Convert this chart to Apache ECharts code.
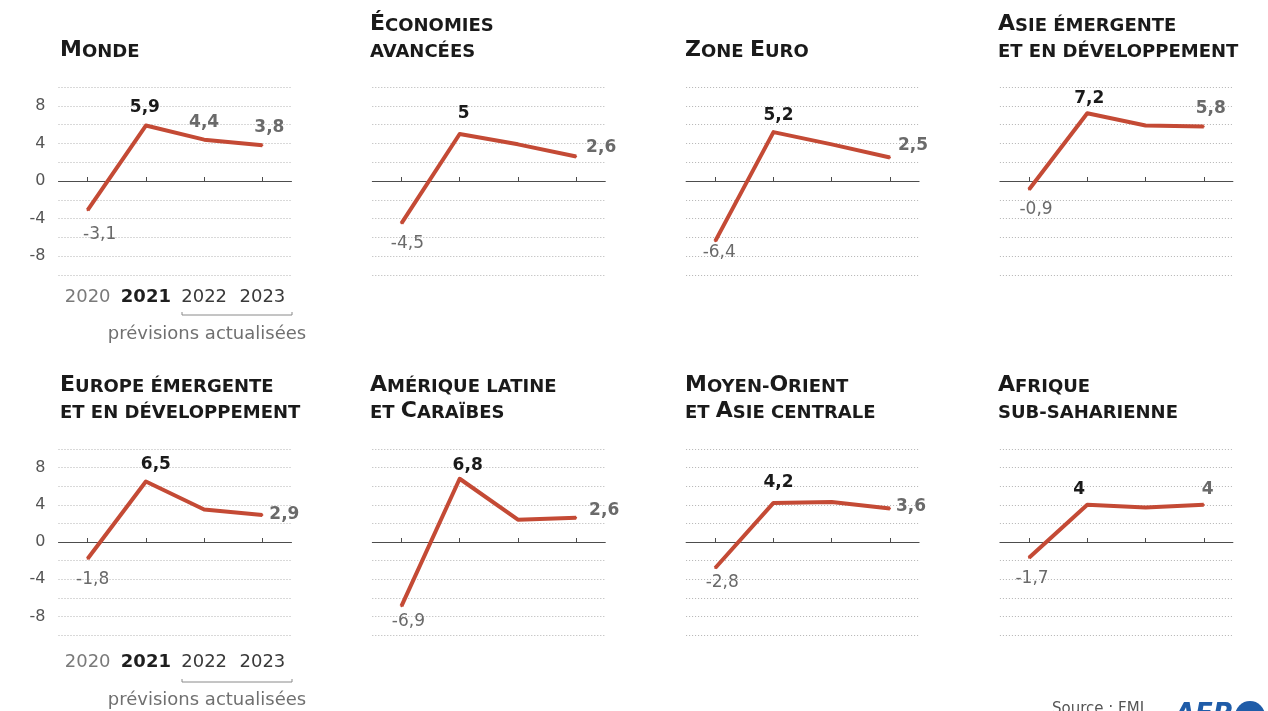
<!DOCTYPE html>
<html><head><meta charset="utf-8">
<script src="https://cdn.jsdelivr.net/npm/echarts@6/dist/echarts.min.js"></script>
<style>html,body{margin:0;padding:0;background:#fff}#c{width:1268px;height:711px}</style>
</head><body><div id="c"></div>
<script>
// ---- data ----
const years = ['2020', '2021', '2022', '2023'];
const yTickLabels = [-8, -4, 0, 4, 8];
const monde = [-3.1, 5.9, 4.4, 3.8];
const economiesAvancees = [-4.5, 5.0, 3.9, 2.6];
const zoneEuro = [-6.4, 5.2, 3.9, 2.5];
const asieEmergente = [-0.9, 7.2, 5.9, 5.8];
const europeEmergente = [-1.8, 6.5, 3.5, 2.9];
const ameriqueLatine = [-6.9, 6.8, 2.4, 2.6];
const moyenOrient = [-2.8, 4.2, 4.3, 3.6];
const afriqueSubsaharienne = [-1.7, 4.0, 3.7, 4.0];
const titles = [
  ['Monde'],
  ['Économies', 'avancées'],
  ['Zone Euro'],
  ['Asie émergente', 'et en développement'],
  ['Europe émergente', 'et en développement'],
  ['Amérique latine', 'et Caraïbes'],
  ['Moyen-Orient', 'et Asie centrale'],
  ['Afrique', 'sub-saharienne']
];
const forecastNote = 'prévisions actualisées';
const sourceText = 'Source : FMI';

// ---- style / layout ----
const FONT = 'DejaVu Sans';
const RED = '#c44a35';
const seriesValues = [monde, economiesAvancees, zoneEuro, asieEmergente,
  europeEmergente, ameriqueLatine, moyenOrient, afriqueSubsaharienne];
const labelShown = [[1,1,1,1],[1,1,0,1],[1,1,0,1],[1,1,0,1],[1,1,0,1],[1,1,0,1],[1,1,0,1],[1,1,0,1]];
const labelOffsets = [
  [[12,24],[-1,-18],[0,-17],[7,-18]],
  [[6,20],[4,-20],[0,0],[25,-9]],
  [[4,11],[5,-17],[0,0],[23,-12]],
  [[7,20],[2,-15],[0,0],[7,-18]],
  [[5,21],[10,-17],[0,0],[22,0]],
  [[7,15],[8,-13],[0,0],[28,-7]],
  [[7,15],[5,-20],[0,0],[21,-2]],
  [[3,21],[-8,-15],[0,0],[4,-15]]
];
const colLeft = [58.5, 372.3, 686.1, 999.9];
const titleLeft = [60, 370, 685, 998];
const rowTop = [87, 449];
const rowHeight = [188, 186];
const gridWidth = 233;
const titleBaseY = [[35, 61], [396, 422]];
const yearMargin = [12, 17];

function fmt(v) { return String(v).replace('.', ','); }

function smallCaps(str) {
  let out = '', cur = null, buf = '';
  for (const ch of str) {
    const st = (ch !== ch.toLowerCase()) ? 'b' : 's';
    if (st !== cur) { if (buf) out += '{' + cur + '|' + buf + '}'; cur = st; buf = ''; }
    buf += ch.toUpperCase();
  }
  if (buf) out += '{' + cur + '|' + buf + '}';
  return out;
}

const grids = [], xAxes = [], yAxes = [], series = [], graphics = [];
for (let i = 0; i < 8; i++) {
  const row = Math.floor(i / 4), col = i % 4;
  grids.push({ left: colLeft[col], top: rowTop[row], width: gridWidth, height: rowHeight[row], containLabel: false });
  xAxes.push({
    type: 'category', gridIndex: i, data: years, boundaryGap: true,
    axisLine: { show: true, onZero: true, lineStyle: { color: '#4d4d4d', width: 1 } },
    axisTick: { show: true, alignWithLabel: true, inside: true, length: 4, lineStyle: { color: '#4d4d4d' } },
    axisLabel: { show: false }, splitLine: { show: false }, z: 3
  });
  xAxes.push({
    type: 'category', gridIndex: i, data: years, boundaryGap: true, position: 'bottom',
    axisLine: { show: false, onZero: false }, axisTick: { show: false }, splitLine: { show: false },
    axisLabel: {
      show: col === 0, margin: yearMargin[row], interval: 0,
      formatter: (v, idx) => idx === 0 ? '{a|' + v + '}' : (idx === 1 ? '{b|' + v + '}' : '{c|' + v + '}'),
      rich: {
        a: { fontFamily: FONT, fontSize: 18, color: '#7a7a7a', lineHeight: 20 },
        b: { fontFamily: FONT, fontSize: 18, color: '#1e1e1e', fontWeight: 'bold', lineHeight: 20 },
        c: { fontFamily: FONT, fontSize: 18, color: '#3a3a3a', lineHeight: 20 }
      }
    }
  });
  yAxes.push({
    type: 'value', gridIndex: i, min: -10, max: 10, interval: 2,
    axisLine: { show: false }, axisTick: { show: false },
    splitLine: { show: true, lineStyle: { color: '#b3b3b3', type: [1, 2], width: 1 } },
    axisLabel: {
      show: col === 0, margin: 13, fontFamily: FONT, fontSize: 16, color: '#555',
      formatter: v => yTickLabels.indexOf(v) >= 0 ? String(v) : ''
    }
  });
  const vals = seriesValues[i];
  series.push({
    type: 'line', xAxisIndex: 2 * i, yAxisIndex: i, z: 5,
    symbol: 'circle', symbolSize: 2, showSymbol: true,
    itemStyle: { color: RED },
    lineStyle: { color: RED, width: 4, join: 'round' },
    emphasis: { disabled: true },
    data: vals.map((v, j) => ({
      value: v,
      label: {
        show: !!labelShown[i][j], position: 'inside', offset: labelOffsets[i][j],
        formatter: p => fmt(p.value), fontFamily: FONT, fontSize: 17,
        color: j === 1 ? '#1a1a1a' : '#6a6a6a',
        fontWeight: j === 0 ? 'normal' : 'bold'
      }
    }))
  });
  // titles
  const lines = titles[i];
  const startLine = 2 - lines.length;
  lines.forEach((ln, k) => {
    graphics.push({
      type: 'text', x: titleLeft[col], y: titleBaseY[row][startLine + k], z: 10,
      style: {
        text: smallCaps(ln), align: 'left', verticalAlign: 'bottom', fill: '#1a1a1a',
        rich: {
          b: { fontFamily: FONT, fontWeight: 'bold', fontSize: 22, lineHeight: 27, verticalAlign: 'bottom', fill: '#1a1a1a' },
          s: { fontFamily: FONT, fontWeight: 'bold', fontSize: 18, lineHeight: 24, verticalAlign: 'bottom', fill: '#1a1a1a' }
        }
      }
    });
  });
}
// forecast brackets and notes for left column
[[315, 334], [682, 700]].forEach(([by, ty]) => {
  graphics.push({ type: 'polyline', shape: { points: [[182, by - 3], [182, by], [292, by], [292, by - 3]] },
    style: { stroke: '#8a8a8a', lineWidth: 1, fill: null } });
  graphics.push({ type: 'text', x: 207, y: ty, style: { text: forecastNote, align: 'center', verticalAlign: 'middle',
    fontFamily: FONT, fontSize: 18, fill: '#707070' } });
});
graphics.push({ type: 'text', x: 1052, y: 702, style: { text: sourceText, align: 'left', verticalAlign: 'top',
  fontFamily: FONT, fontSize: 15, fill: '#555' } });
graphics.push({ type: 'text', x: 1175, y: 702, style: { text: 'AFP', align: 'left', verticalAlign: 'top',
  fontFamily: FONT, fontSize: 26, fontWeight: 'bold', fontStyle: 'italic', fill: '#1f5ca8' } });
graphics.push({ type: 'circle', shape: { cx: 1250, cy: 716, r: 15 }, style: { fill: '#1f5ca8' } });

const chart = echarts.init(document.getElementById('c'));
chart.setOption({
  animation: false,
  backgroundColor: '#ffffff',
  grid: grids, xAxis: xAxes, yAxis: yAxes, series: series, graphic: graphics
});
</script></body></html>
